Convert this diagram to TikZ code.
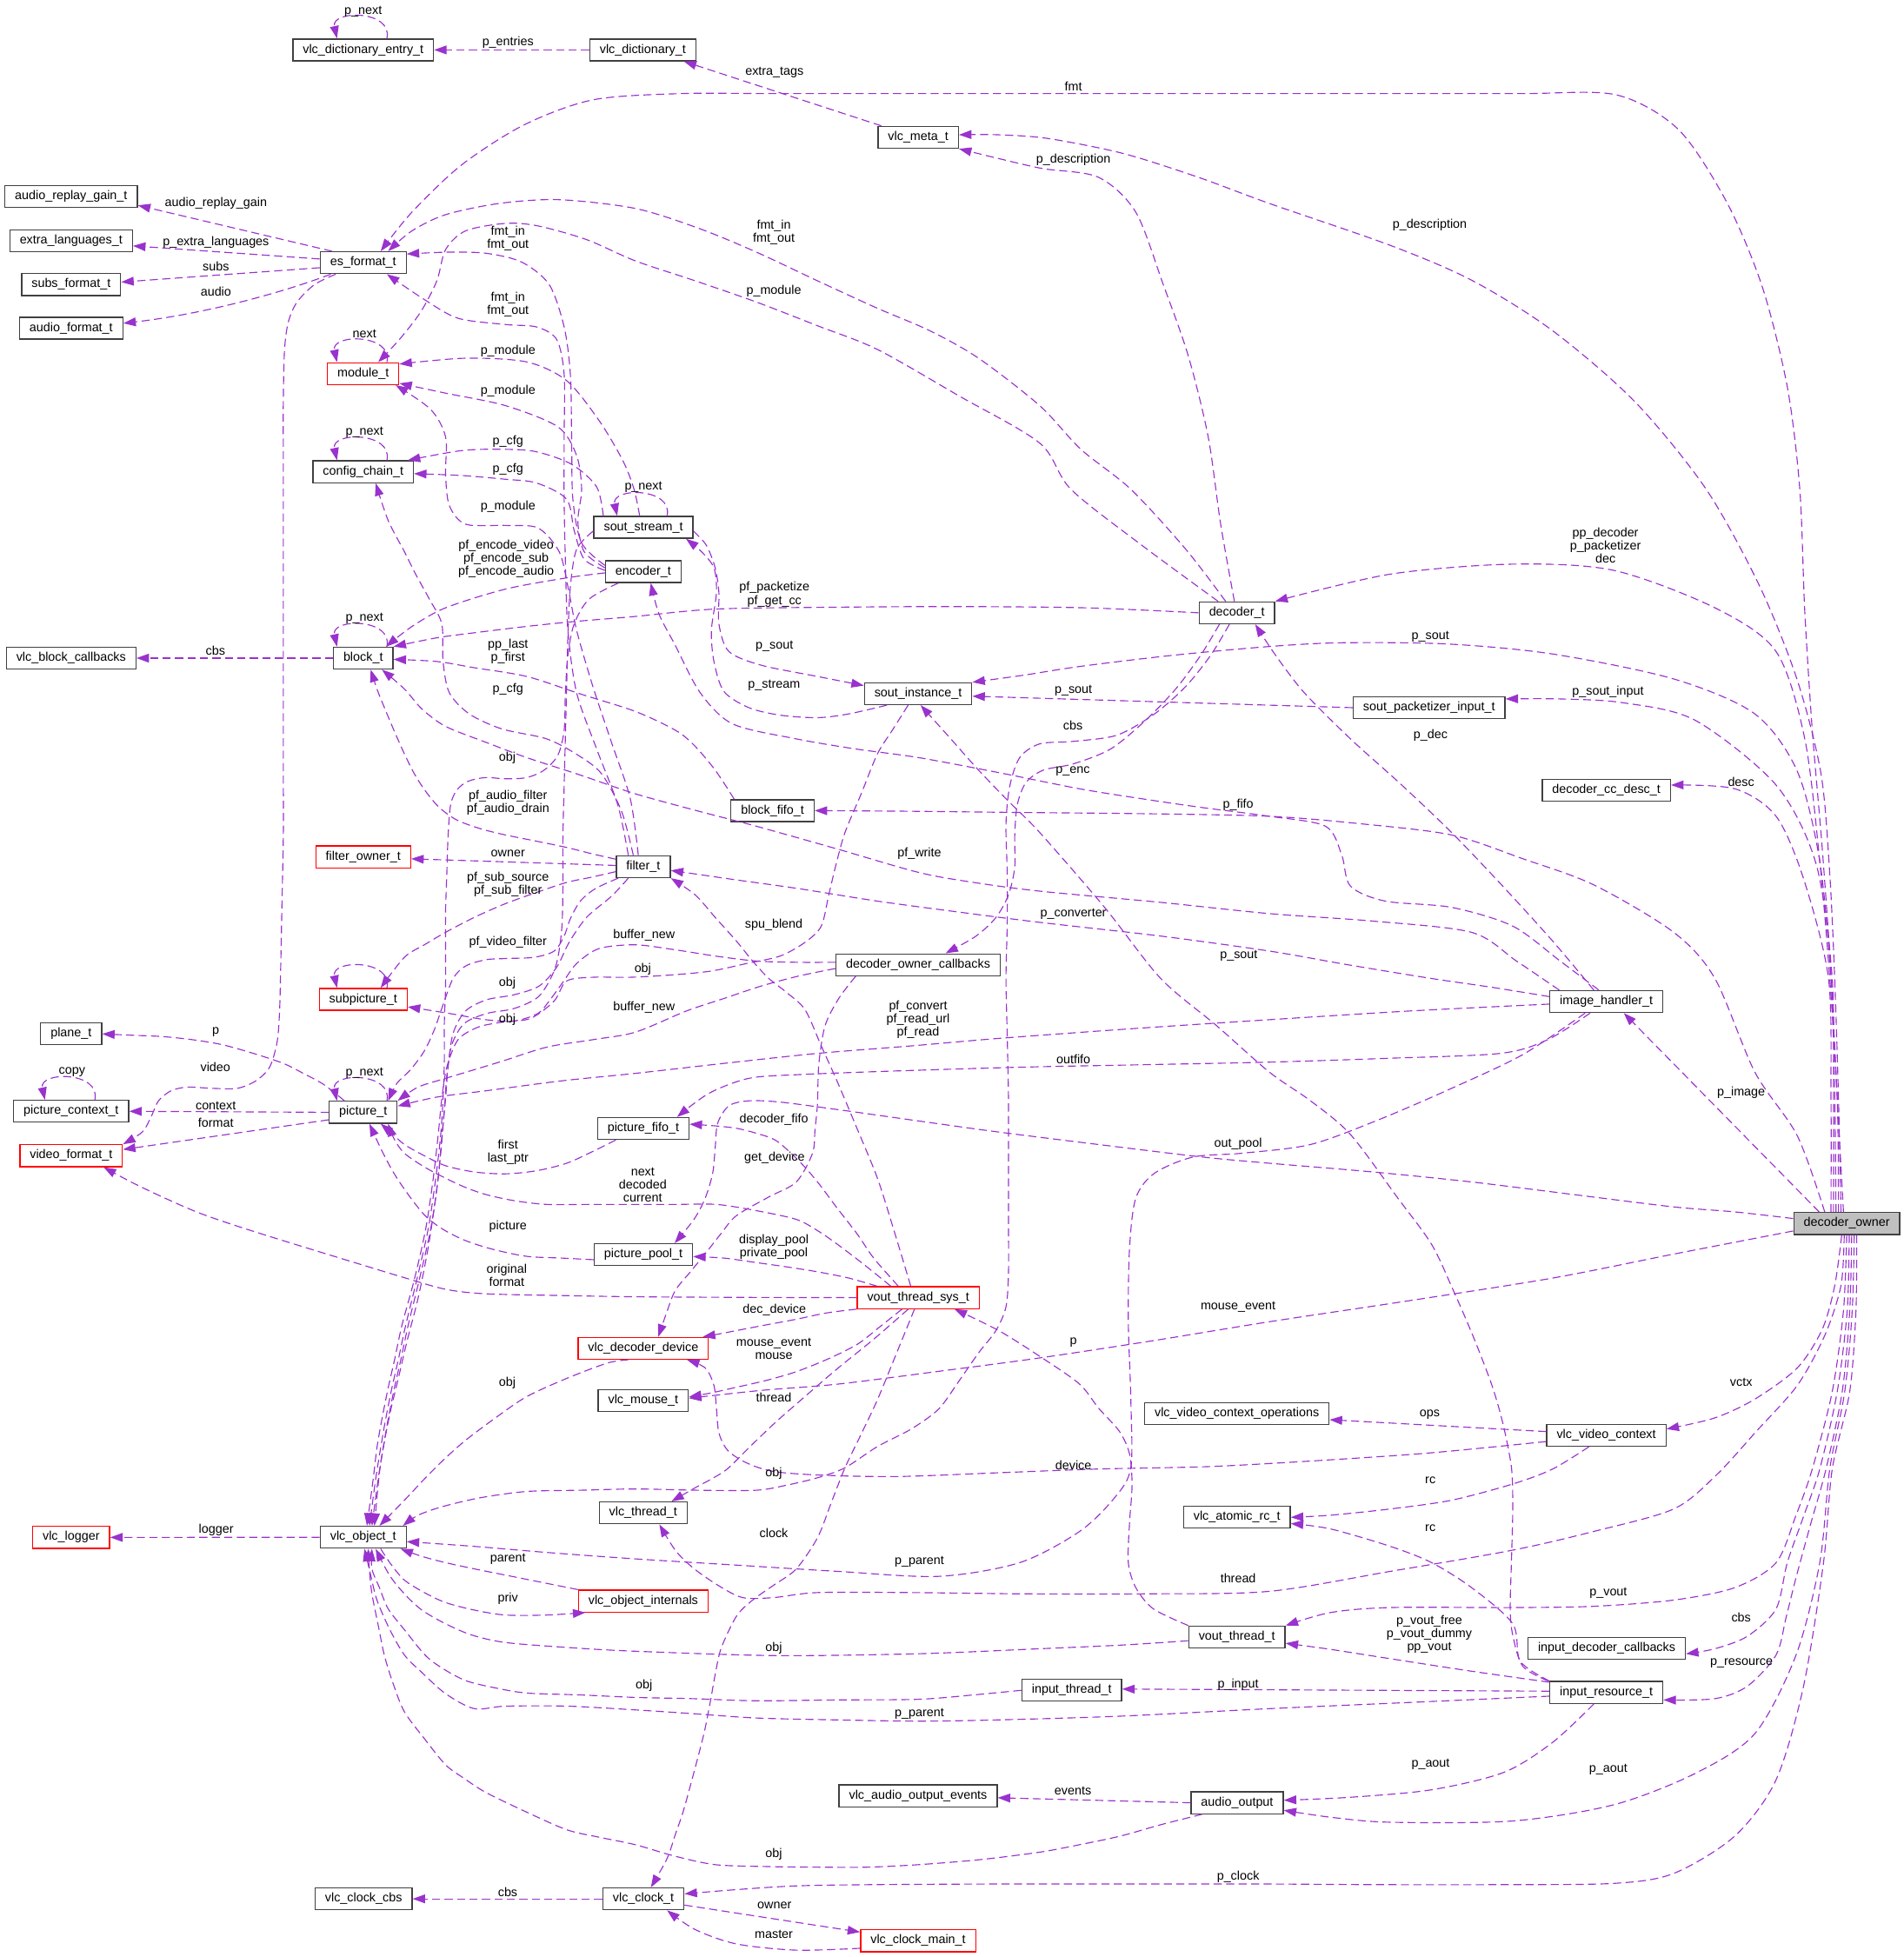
\documentclass[tikz,border=0pt]{standalone}
\usepackage{fontspec}
\setmainfont{Liberation Sans}
\usetikzlibrary{arrows.meta}

\definecolor{edgecol}{HTML}{9A32CD}
\definecolor{ownerfill}{HTML}{BFBFBF}

\tikzset{
  cls/.style={draw=black!75, line width=0.9pt, fill=white, minimum height=17.5pt,
    inner xsep=8pt, inner ysep=0pt, text height=7.4pt, text depth=2.4pt,
    font=\fontsize{10}{12}\selectfont},
  redcls/.style={cls, draw=red},
  ownercls/.style={cls, fill=ownerfill},
  use/.style={draw=edgecol, line width=0.8pt, dash pattern=on 6.5pt off 3.5pt,
    -{Triangle[length=10pt,width=7pt]}},
  lbl/.style={font=\fontsize{10}{10.5}\selectfont, inner sep=0pt, align=center},
}

\begin{document}
\begin{tikzpicture}[x=1pt,y=-1pt]
\useasboundingbox (0,0) rectangle (1525,1568);

% classes
\node[cls] (dictentry) at (291,40) {vlc\_dictionary\_entry\_t};
\node[cls] (dict) at (515,40) {vlc\_dictionary\_t};
\node[cls] (meta) at (735.7,110) {vlc\_meta\_t};
\node[cls] (replaygain) at (57,157.5) {audio\_replay\_gain\_t};
\node[cls] (extralang) at (57,193) {extra\_languages\_t};
\node[cls] (esformat) at (291,210.5) {es\_format\_t};
\node[cls] (subsformat) at (57,228) {subs\_format\_t};
\node[cls] (audioformat) at (57,263) {audio\_format\_t};
\node[redcls] (module) at (291,299.4) {module\_t};
\node[cls] (configchain) at (291,378) {config\_chain\_t};
\node[cls] (soutstream) at (515.5,422.5) {sout\_stream\_t};
\node[cls] (encoder) at (515.4,458) {encoder\_t};
\node[cls] (decoder) at (991,491) {decoder\_t};
\node[cls] (blockcb) at (57,527.3) {vlc\_block\_callbacks};
\node[cls] (block) at (291,527.3) {block\_t};
\node[cls] (soutinst) at (735.6,555.8) {sout\_instance\_t};
\node[cls] (soutpkt) at (1145,567) {sout\_packetizer\_input\_t};
\node[cls] (ccdesc) at (1287,633) {decoder\_cc\_desc\_t};
\node[cls] (blockfifo) at (619,649.5) {block\_fifo\_t};
\node[redcls] (filterowner) at (291,686.6) {filter\_owner\_t};
\node[cls] (filter) at (515.4,694.4) {filter\_t};
\node[cls] (decownercb) at (735.6,773) {decoder\_owner\_callbacks};
\node[redcls] (subpicture) at (291,800.7) {subpicture\_t};
\node[cls] (imagehandler) at (1287,802.5) {image\_handler\_t};
\node[cls] (plane) at (57,828.4) {plane\_t};
\node[cls] (piccontext) at (57,890.4) {picture\_context\_t};
\node[cls] (picture) at (291,891.2) {picture\_t};
\node[cls] (picfifo) at (515.4,904.2) {picture\_fifo\_t};
\node[redcls] (videoformat) at (57,926) {video\_format\_t};
\node[ownercls] (decoderowner) at (1479.6,980.3) {decoder\_owner};
\node[cls] (picpool) at (515.5,1005.3) {picture\_pool\_t};
\node[redcls] (voutsys) at (735.7,1039.7) {vout\_thread\_sys\_t};
\node[redcls] (decdevice) at (515.4,1080.3) {vlc\_decoder\_device};
\node[cls] (mouse) at (515.4,1122.3) {vlc\_mouse\_t};
\node[cls] (vctxops) at (991,1132.5) {vlc\_video\_context\_operations};
\node[cls] (vctx) at (1287,1150) {vlc\_video\_context};
\node[cls] (thread) at (515.3,1212.2) {vlc\_thread\_t};
\node[cls] (atomicrc) at (991,1215.7) {vlc\_atomic\_rc\_t};
\node[redcls] (logger) at (57,1231.8) {vlc\_logger};
\node[cls] (object) at (291,1231.7) {vlc\_object\_t};
\node[redcls] (objinternals) at (515.4,1282.8) {vlc\_object\_internals};
\node[cls] (vout) at (991,1311.6) {vout\_thread\_t};
\node[cls] (inputdeccb) at (1287.3,1320.6) {input\_decoder\_callbacks};
\node[cls] (inputthread) at (858.7,1354.3) {input\_thread\_t};
\node[cls] (inputres) at (1287,1356) {input\_resource\_t};
\node[cls] (aoutevents) at (735.6,1438.9) {vlc\_audio\_output\_events};
\node[cls] (aout) at (991.2,1444.4) {audio\_output};
\node[cls] (clockcbs) at (291.3,1521.4) {vlc\_clock\_cbs};
\node[cls] (clock) at (515.5,1521.4) {vlc\_clock\_t};
\node[redcls] (clockmain) at (735.6,1555) {vlc\_clock\_main\_t};

% self references
\draw[use] ([xshift=19pt]dictentry.north) .. controls ([xshift=24pt,yshift=23pt]dictentry.north) and ([xshift=-26pt,yshift=23pt]dictentry.north) .. ([xshift=-21pt]dictentry.north);
\draw[use] ([xshift=19pt]module.north) .. controls ([xshift=24pt,yshift=23pt]module.north) and ([xshift=-26pt,yshift=23pt]module.north) .. ([xshift=-21pt]module.north);
\draw[use] ([xshift=19pt]configchain.north) .. controls ([xshift=24pt,yshift=23pt]configchain.north) and ([xshift=-26pt,yshift=23pt]configchain.north) .. ([xshift=-21pt]configchain.north);
\draw[use] ([xshift=19pt]soutstream.north) .. controls ([xshift=24pt,yshift=23pt]soutstream.north) and ([xshift=-26pt,yshift=23pt]soutstream.north) .. ([xshift=-21pt]soutstream.north);
\draw[use] ([xshift=19pt]block.north) .. controls ([xshift=24pt,yshift=23pt]block.north) and ([xshift=-26pt,yshift=23pt]block.north) .. ([xshift=-21pt]block.north);
\draw[use] ([xshift=19pt]subpicture.north) .. controls ([xshift=24pt,yshift=23pt]subpicture.north) and ([xshift=-26pt,yshift=23pt]subpicture.north) .. ([xshift=-21pt]subpicture.north);
\draw[use] ([xshift=19pt]picture.north) .. controls ([xshift=24pt,yshift=23pt]picture.north) and ([xshift=-26pt,yshift=23pt]picture.north) .. ([xshift=-21pt]picture.north);
\draw[use] ([xshift=19pt]piccontext.north) .. controls ([xshift=24pt,yshift=23pt]piccontext.north) and ([xshift=-26pt,yshift=23pt]piccontext.north) .. ([xshift=-21pt]piccontext.north);

% dictionary, meta, es_format_t
\draw[use] (dict.west) -- (dictentry.east);
\draw[use] ([xshift=3pt]meta.north west) -- ([xshift=-10pt]dict.south east);
\draw[use] ([xshift=10pt]esformat.north west) -- ([yshift=-7pt]replaygain.east);
\draw[use] ([yshift=3pt]esformat.west) -- ([yshift=-4pt]extralang.east);
\draw[use] ([yshift=-4pt]esformat.west) -- ([yshift=2pt]subsformat.east);
\draw[use] ([xshift=-26pt]esformat.south) .. controls (222,236) and (160,252) .. ([yshift=4pt]audioformat.east);
\draw[use] plot[smooth] coordinates {([xshift=-22pt]esformat.south) (252,228) (238,242) (231,258) (228,280) (227,320) (227,370) (227,420) (227,470) (227,520) (227,570) (227,620) (227,670) (226,720) (225,770) (224,810) (222,835) (216,855) (205,866) (190,872) (170,872) (150,871) (137,874) (127,882) (121,895) (114,907) (videoformat.north east)};

% decoder_owner
\draw[use] plot[smooth] coordinates {([xshift=-2.6pt]decoderowner.north) (1472,880) (1467,780) (1460,680) (1452,585) (1446,490) (1442,392) (1432,310) (1412,230) (1384,163) (1345,104) (1295,76) (1220,75) (1120,75) (1020,75) (920,75) (820,75) (720,75) (620,75) (545,75) (475,80) (420,100) (370,132) (330,170) ([xshift=14pt]esformat.north)};
\draw[use] plot[smooth] coordinates {([xshift=-4.6pt]decoderowner.north) (1473,880) (1470,785) (1466,700) (1459,620) (1440,545) (1410,470) (1367,392) (1310,322) (1244,265) (1180,225) (1115,197) (1017,163) (960,142) (900,123) (840,111) (800,108) ([yshift=2pt]meta.east)};
\draw[use] plot[smooth] coordinates {([xshift=-6.6pt]decoderowner.north) (1472,880) (1466,784) (1458,690) (1446,592) (1423,522) (1374,487) (1293,457) (1212,452) (1114,460) (decoder.north east)};
\draw[use] plot[smooth] coordinates {([xshift=-8.6pt]decoderowner.north) (1470,880) (1467,785) (1458,690) (1440,618) (1406,572) (1341,544) (1244,524) (1160,516) (1075,515) (1017,518) (940,525) (865,534) (820,541) (soutinst.north east)};
\draw[use] plot[smooth] coordinates {([xshift=-10.6pt]decoderowner.north) (1469,880) (1468,784) (1455,692) (1423,629) (1358,577) (1300,563) (1250,560) ([yshift=7pt]soutpkt.east)};
\draw[use] plot[smooth] coordinates {([xshift=-12.6pt]decoderowner.north) (1467,880) (1465,784) (1445,704) (1423,654) (1390,632) ([yshift=4pt]ccdesc.east)};
\draw[use] plot[smooth] coordinates {([xshift=-17.6pt]decoderowner.north) (1440,910) (1406,859) (1374,784) (1341,747) (1277,709) (1220,688) (1163,669) (1090,660) (1017,654) (920,652) (820,651) (730,650) (blockfifo.east)};
\draw[use] ([xshift=-22pt]decoderowner.north) -- ([xshift=14pt]imagehandler.south);
\draw[use] plot[smooth] coordinates {([yshift=4pt]decoderowner.west) (1390,971) (1341,967) (1260,957) (1179,947) (1100,939) (1017,932) (963,927) (880,917) (800,907) (735,898) (671,889) (625,883) (600,882) (584,886) (575,900) (573,920) (571,940) (565,960) (556,977) ([xshift=25pt]picpool.north)};
\draw[use] plot[smooth] coordinates {([yshift=-6pt]decoderowner.west) (1340,1005) (1244,1024) (1130,1042) (1017,1059) (925,1074) (833,1088) (750,1099) (671,1109) (610,1114) ([yshift=2pt]mouse.east)};
\draw[use] plot[smooth] coordinates {([xshift=-4pt]decoderowner.south) (1470,1030) (1460,1065) (1440,1096) (1406,1121) (1374,1136) ([yshift=5pt]vctx.east)};
\draw[use] plot[smooth] coordinates {([xshift=-2pt]decoderowner.south) (1475,1030) (1462,1070) (1440,1110) (1407,1147) (1375,1182) (1341,1209) (1277,1227) (1212,1242) (1114,1259) (1017,1275) (920,1277) (820,1277) (730,1276) (655,1276) (620,1280) (595,1280) (575,1270) (555,1256) (541,1242) ([xshift=13pt]thread.south)};
\draw[use] plot[smooth] coordinates {(decoderowner.south) (1477,1050) (1468,1115) (1452,1177) (1439,1214) (1423,1252) (1390,1272) (1341,1282) (1277,1287) (1212,1288) (1114,1288) (1066,1292) (vout.north east)};
\draw[use] plot[smooth] coordinates {([xshift=2pt]decoderowner.south) (1480,1050) (1472,1115) (1458,1177) (1445,1215) (1432,1252) (1423,1289) (1400,1311) (1374,1321) ([yshift=-4.5pt]inputdeccb.east)};
\draw[use] plot[smooth] coordinates {([xshift=4pt]decoderowner.south) (1482,1050) (1476,1115) (1463,1177) (1451,1220) (1439,1264) (1431,1296) (1423,1326) (1400,1351) (1374,1361) ([yshift=-6pt]inputres.east)};
\draw[use] plot[smooth] coordinates {([xshift=6pt]decoderowner.south) (1484,1050) (1478,1115) (1466,1177) (1458,1252) (1439,1326) (1406,1389) (1358,1421) (1293,1446) (1212,1459) (1114,1460) (1066,1456) ([yshift=-6pt]aout.east)};
\draw[use] plot[smooth] coordinates {([xshift=8pt]decoderowner.south) (1487,1050) (1482,1115) (1468,1177) (1461,1252) (1445,1351) (1423,1426) (1390,1471) (1341,1501) (1293,1509) (1200,1510) (1100,1510) (1017,1509.5) (920,1509.5) (800,1509.5) (700,1510) (638,1511) (590,1514) ([yshift=4pt]clock.east)};

% decoder_t
\draw[use] plot[smooth] coordinates {([xshift=-2pt]decoder.north) (978,420) (968,350) (952,285) (932,228) (910,170) (880,142) (835,135) (800,127) (meta.south east)};
\draw[use] plot[smooth] coordinates {([xshift=-9pt]decoder.north) (950,440) (906,392) (866,360) (833,325) (784,287) (745,265) (703,247) (655,225) (606,202) (560,183) (509,167) (448,160) (400,163) (357,172) (330,185) ([xshift=20pt]esformat.north)};
\draw[use] plot[smooth] coordinates {([xshift=-15pt]decoder.north) (915,437) (858,392) (833,355) (768,317) (703,280) (655,261) (606,242) (557,225) (509,209) (470,192) (431,181) (405,179) (373,185) (357,200) (350,225) (337,250) (320,272) ([xshift=12pt]module.north)};
\draw[use] plot[smooth] coordinates {(decoder.west) (870,487) (768,486) (670,486.5) (573,488) (508,494) (460,498) (421,502) (380,507) (350,511) (block.north east)};
\draw[use] plot[smooth] coordinates {([xshift=-14pt]decoder.south) (962,525) (942,552) (918,577) (890,600) (860,612) (836,617) (822,627) (815,645) (813,670) (813,695) (808,717) (798,735) (782,750) ([xshift=22pt]decownercb.north)};
\draw[use] plot[smooth] coordinates {([xshift=-6pt]decoder.south) (970,525) (950,550) (925,572) (895,589) (860,594) (833,596) (817,607) (809,630) (806,660) (807,700) (807,740) (806,784) (807,830) (808,880) (808,930) (808,980) (808,1020) (806,1047) (798,1066) (784,1084) (768,1107) (752,1129) (730,1145) (703,1159) (677,1176) (655,1184) (630,1190) (606,1194) (560,1194) (509,1193) (465,1194) (422,1195) (385,1200) (355,1207) (335,1214) ([xshift=-3pt]object.north east)};

% sout
\draw[use] plot[smooth] coordinates {([yshift=-3pt]soutstream.east) (566,437) (573,455) (576,475) (576,500) (584,522) (610,533) (655,542) ([yshift=6.5pt]soutinst.west)};
\draw[use] plot[smooth] coordinates {([xshift=-25pt]soutinst.south) (680,572) (655,575) (625,573) (600,567) (580,554) (572,530) (570,505) (574,475) (572,455) (562,442) ([xshift=-6pt]soutstream.south east)};
\draw[use] (soutpkt.west) -- ([yshift=-2pt]soutinst.east);
\draw[use] plot[smooth] coordinates {([xshift=-3pt]soutstream.north) (508,392) (499,369) (480,337) (454,305) (422,290) (373,287) ([yshift=-1.5pt]module.north east)};
\draw[use] plot[smooth] coordinates {([xshift=8pt]soutstream.north west) (478,390) (458,372) (430,362) (405,360) (370,361) ([xshift=-5pt]configchain.north east)};
\draw[use] plot[smooth] coordinates {([yshift=-3pt]soutstream.west) (462,440) (457,470) (455,510) (454,550) (453,590) (452,630) (451,670) (451,710) (450,745) (445,775) (432,798) (412,808) (390,812) (372,820) (362,837) (358,862) (356,890) (353,925) (349,960) (343,1000) (335,1040) (326,1075) (319,1105) (313,1130) (308,1155) (304,1180) ([xshift=9pt]object.north)};
\draw[use] plot[smooth] coordinates {([xshift=-8pt]soutinst.south) (715,585) (703,604) (690,636) (677,667) (670,692) (664,717) (658,742) (645,755) (625,766) (598,772) (570,778) (540,781) (505,783) (475,783) (454,786) (444,802) (425,816) (402,819) (383,823) (367,833) (358,855) (354,880) (351,910) (347,945) (341,985) (332,1025) (322,1062) (316,1090) (311,1112) (306,1137) (302,1160) (299,1185) ([xshift=3pt]object.north)};

% encoder_t
\draw[use] plot[smooth] coordinates {([yshift=5pt]encoder.west) (466,435) (459,400) (458,350) (457,300) (452,262) (440,228) (418,210) (390,203) (360,202) ([yshift=7pt]esformat.east)};
\draw[use] plot[smooth] coordinates {([yshift=3pt]encoder.west) (468,442) (463,418) (466,392) (462,365) (447,342) (405,325) (357,315) ([yshift=1.5pt]module.south east)};
\draw[use] plot[smooth] coordinates {([yshift=1pt]encoder.west) (468,448) (460,425) (454,400) (430,387) (405,384) (370,381) ([yshift=-1.5pt]configchain.east)};
\draw[use] plot[smooth] coordinates {([yshift=-1pt]encoder.west) (454,463) (405,472) (357,487) (330,502) ([xshift=-6pt]block.north east)};
\draw[use] plot[smooth] coordinates {([xshift=-20pt]encoder.south) (472,480) (460,500) (455,525) (453,555) (452,585) (447,605) (436,617) (422,623) (405,624) (389,623) (375,626) (366,633) (361,645) (359,670) (358,700) (357,730) (357,760) (357,790) (356,820) (356,850) (355,880) (353,910) (349,945) (343,985) (334,1025) (325,1062) (319,1090) (314,1112) (309,1137) (305,1160) (301,1185) ([xshift=5pt]object.north)};

% filter_t
\draw[use] plot[smooth] coordinates {([xshift=-12pt]filter.north) (495,645) (478,600) (462,555) (455,505) (453,450) (452,400) (452,350) (452,300) (446,272) (430,262) (405,260) (367,255) (340,240) ([xshift=19pt]esformat.south)};
\draw[use] plot[smooth] coordinates {([xshift=-4pt]filter.north) (505,640) (490,595) (475,550) (462,505) (455,470) (448,442) (431,423) (405,421) (373,420) (360,405) (357,380) (357,350) (345,328) ([xshift=-3pt]module.south east)};
\draw[use] plot[smooth] coordinates {([xshift=-8pt]filter.north) (498,650) (482,620) (463,605) (438,592) (402,584) (376,572) (360,555) (355,530) (354,500) (344,480) (333,460) (324,442) (311,417) ([xshift=10pt]configchain.south)};
\draw[use] plot[smooth] coordinates {([yshift=6pt]filter.west) (474,684) (454,679) (430,674) (405,669) (385,664) (366,657) (352,647) (341,634) (332,620) (324,604) (316,586) (308,567) (302,552) ([xshift=6pt]block.south)};
\draw[use] ([yshift=1pt]filter.west) -- ([yshift=-1.5pt]filterowner.east);
\draw[use] plot[smooth] coordinates {([yshift=-4pt]filter.west) (473,703) (454,707) (430,715) (405,724) (380,735) (357,747) (340,757) (324,767) ([xshift=14pt]subpicture.north)};
\draw[use] plot[smooth] coordinates {([xshift=2pt]filter.south west) (477,712) (465,722) (457,736) (452,750) (444,762) (428,767) (405,768) (389,769) (373,774) (363,784) (355,805) (348,825) (340,842) (329,857) (318,868) ([xshift=20pt]picture.north)};
\draw[use] plot[smooth] coordinates {([xshift=-12pt]filter.south) (490,718) (470,735) (456,755) (446,775) (432,790) (412,797) (390,801) (373,810) (363,828) (359,855) (357,880) (354,910) (351,945) (345,985) (336,1025) (327,1062) (321,1090) (316,1112) (311,1137) (307,1160) (303,1185) ([xshift=7pt]object.north)};

% block_fifo_t, block_t
\draw[use] plot[smooth] coordinates {([xshift=3pt]blockfifo.north west) (573,617) (556,597) (541,585) (509,570) (465,556) (422,542) (380,535) (350,530) ([yshift=-1pt]block.east)};
\draw[use] (block.west) -- (blockcb.east);

% image_handler_t
\draw[use] plot[smooth] coordinates {([xshift=-10pt]imagehandler.north) (1244,754) (1204,710) (1163,667) (1122,628) (1082,592) (1045,555) (1022,525) ([xshift=-16pt]decoder.south east)};
\draw[use] plot[smooth] coordinates {([xshift=-6pt]imagehandler.north) (1250,770) (1212,742) (1163,727) (1110,722) (1082,710) (1075,685) (1062,662) (1017,654) (963,647) (915,640) (865,632) (800,619) (736,607) (685,600) (638,592) (587,580) (561,555) (541,517) (528,492) ([xshift=6pt]encoder.south)};
\draw[use] plot[smooth] coordinates {([xshift=8pt]imagehandler.north west) (1215,770) (1179,747) (1100,738) (1017,732) (930,723) (833,714) (780,707) (736,699) (670,680) (606,662) (560,650) (509,636) (465,621) (422,607) (390,595) (357,582) (338,568) (324,552) ([xshift=15pt]block.south)};
\draw[use] plot[smooth] coordinates {([yshift=4pt]imagehandler.west) (1195,791) (1147,784) (1080,773) (1017,762) (930,750) (833,739) (770,731) (703,722) (640,712) (590,705) ([yshift=-3pt]filter.east)};
\draw[use] plot[smooth] coordinates {([yshift=-2pt]imagehandler.west) (1130,810) (1017,817) (910,824) (800,832) (730,838) (655,844) (580,852) (509,860) (450,866) (389,874) (350,879) ([yshift=5pt]picture.east)};
\draw[use] plot[smooth] coordinates {([xshift=-13pt]imagehandler.south) (1240,833) (1202,844) (1110,848) (1017,851) (920,853) (820,855) (720,858) (640,861) (600,864) (568,876) ([xshift=-10pt]picfifo.north east)};
\draw[use] plot[smooth] coordinates {([xshift=-17pt]imagehandler.south) (1220,845) (1163,872) (1105,897) (1050,917) (995,924) (956,927) (925,940) (910,960) (905,1000) (904,1059) (906,1120) (906,1176) (893,1200) (865,1227) (817,1252) (752,1263) (671,1259) (590,1254) (509,1249) (440,1244) (380,1239) ([yshift=-3.5pt]object.east)};

% decoder_owner_callbacks
\draw[use] plot[smooth] coordinates {([xshift=-50pt]decownercb.south) (672,800) (661,822) (656,853) (655,884) (653,905) (651,924) (638,947) (616,959) (590,974) (578,988) (567,1002) (554,1018) (541,1034) (534,1052) ([xshift=12pt]decdevice.north)};
\draw[use] plot[smooth] coordinates {([yshift=2pt]decownercb.west) (638,771) (606,770) (573,766) (541,761) (509,757) (480,760) (462,772) (451,787) (440,802) (431,812) (412,818) (389,817) (360,812) ([yshift=-6pt]subpicture.east)};
\draw[use] plot[smooth] coordinates {([yshift=-3pt]decownercb.west) (640,782) (610,790) (580,800) (550,810) (509,827) (475,833) (438,839) (400,851) (357,864) (335,871) (picture.north east)};

% vout_thread_sys_t
\draw[use] plot[smooth] coordinates {([xshift=-6pt]voutsys.north) (716,985) (703,944) (687,905) (671,867) (658,838) (645,809) (630,795) (616,784) (603,770) (590,754) (573,735) (557,717) (filter.south east)};
\draw[use] plot[smooth] coordinates {([xshift=-16pt]voutsys.north) (700,1008) (687,989) (670,967) (655,947) (640,930) (622,914) (606,908) (590,904) (572,902) ([yshift=3.5pt]picfifo.east)};
\draw[use] plot[smooth] coordinates {([xshift=-22pt]voutsys.north) (692,1013) (671,997) (655,986) (638,977) (606,970) (574,965) (541,965) (509,965) (474,965) (438,965) (412,962) (389,957) (372,951) (357,944) (340,935) (324,924) (316,913) ([xshift=20pt]picture.south)};
\draw[use] plot[smooth] coordinates {([xshift=-33pt]voutsys.north) (680,1024) (655,1019) (630,1015) (606,1011.6) (580,1008) ([yshift=-1.5pt]picpool.east)};
\draw[use] plot[smooth] coordinates {(voutsys.west) (600,1039.5) (509,1039) (450,1038) (389,1036.6) (357,1033) (325,1024) (292,1014) (243,999) (195,984) (160,972) (130,959) (105,947) ([xshift=26pt]videoformat.south)};
\draw[use] plot[smooth] coordinates {(voutsys.south west) (662,1052) (638,1057) (606,1063) (575,1069) ([xshift=-5pt]decdevice.north east)};
\draw[use] plot[smooth] coordinates {([xshift=-13pt]voutsys.south) (705,1063) (687,1077) (663,1089) (638,1099) (614,1106) (590,1111.5) (570,1116) ([yshift=3pt]mouse.east)};
\draw[use] plot[smooth] coordinates {([xshift=-8pt]voutsys.south) (700,1073) (671,1096.5) (646,1118) (622,1139) (602,1158) (583,1176.7) (570,1185) (557,1192) ([xshift=-13pt]thread.north east)};
\draw[use] plot[smooth] coordinates {([xshift=-3pt]voutsys.south) (718,1085) (703,1121.5) (690,1149) (677,1176) (666,1204) (655,1232) (638,1257) (620,1270) (603,1282) (590,1295) (578,1320) (573.5,1339) (569,1364) (564,1389) (556,1420) (547.5,1451) (541,1470) (534.5,1489) ([xshift=6pt]clock.north)};

% picture_t and friends
\draw[use] plot[smooth] coordinates {([xshift=-15pt]picture.north) (259.5,869) (243,860) (227,852) (203,844) (178,837) (154,833) (130,830.5) (107,829.5) (plane.east)};
\draw[use] (picture.west) -- (piccontext.east);
\draw[use] ([yshift=-6pt]picture.west) -- ([yshift=5pt]videoformat.east);
\draw[use] plot[smooth] coordinates {([xshift=-22pt]picfifo.south) (474,923) (454,932) (430,938) (405,940.5) (380,939) (357,934) (340,926) (324,917) (314,908) ([xshift=14pt]picture.south)};
\draw[use] plot[smooth] coordinates {([yshift=-4pt]picpool.west) (450,1008) (422,1006.6) (395,1001) (373,994) (355,985) (340.6,974) (327,957) (315,939) (305,920) ([xshift=5pt]picture.south)};

% video context, devices, objects
\draw[use] plot[smooth] coordinates {([xshift=-12pt]decdevice.south) (487,1092) (455,1104) (422,1119) (397,1136) (373,1154) (355,1170) (340,1185) (325,1201) ([xshift=13pt]object.north)};
\draw[use] ([yshift=3pt]vctx.west) -- ([yshift=-5pt]vctxops.east);
\draw[use] plot[smooth] coordinates {([yshift=-5pt]vctx.west) (1147,1164) (1060,1170) (970,1175) (880,1177) (800,1180) (720,1183) (660,1182) (620,1179) (598,1172) (583,1162) (576,1148) (574,1128) (572,1110) (565,1096) ([xshift=35pt]decdevice.south)};
\draw[use] plot[smooth] coordinates {([xshift=-14pt]vctx.south) (1244,1177) (1212,1189) (1163,1202) (1114,1209) (1066,1214) (atomicrc.east)};
\draw[use] (object.west) -- (logger.east);
\draw[use] plot[smooth] coordinates {(objinternals.north west) (435,1268) (405,1262) (380,1257) (357,1252) (338,1247) ([xshift=-5pt]object.south east)};
\draw[use] plot[smooth] coordinates {([xshift=14pt]object.south) (313,1253) (324,1266) (340,1276) (357,1284) (380,1290) (405,1294) (438,1294) ([xshift=6pt]objinternals.south west)};

% vout_thread_t
\draw[use] plot[smooth] coordinates {(vout.north west) (924,1289) (910,1272) (904,1252) (905,1220) (907,1190) (905,1165) (897,1147) (880,1128) (865,1109) (835,1088) (800,1066) ([xshift=29pt]voutsys.south)};
\draw[use] plot[smooth] coordinates {([yshift=-3pt]vout.west) (900,1318) (833,1321) (736,1325) (622,1326.5) (509,1323) (455,1320) (405,1316) (378,1310) (357,1301) (338,1290) (324,1277) (312,1262) ([xshift=10pt]object.south)};

% input_resource_t
\draw[use] plot[smooth] coordinates {(inputres.north west) (1218,1331) (1212,1301) (1179,1272) (1147,1252) (1114,1239) (1066,1225) ([yshift=-5pt]atomicrc.east)};
\draw[use] plot[smooth] coordinates {([xshift=-1pt]inputres.north west) (1220,1335) (1212,1310) (1210,1289) (1211,1250) (1212,1210) (1211,1176) (1204,1140) (1195,1109) (1180,1070) (1164,1033) (1147,997) (1120,960) (1082,909) (1050,882) (1017,859) (975,822) (930,784) (885,727) (833,667) (808,642) (784,617) (760,590) ([xshift=2pt]soutinst.south)};
\draw[use] plot[smooth] coordinates {([yshift=-1pt]inputres.north west) (1179,1339) (1114,1329) (1066,1321.5) ([yshift=-5pt]vout.east)};
\draw[use] ([yshift=1pt]inputres.west) -- ([yshift=1pt]inputthread.east);
\draw[use] plot[smooth] coordinates {([yshift=-3pt]inputres.west) (1130,1364) (1017,1369) (898,1375) (800,1378) (736,1379) (670,1378) (606,1376.5) (555,1373) (509,1370) (455,1367) (405,1367) (380,1369) (357,1357) (338,1340) (324,1326) (312,1305) (302,1282) (297,1262) ([xshift=1pt]object.south)};
\draw[use] plot[smooth] coordinates {([xshift=-10pt]inputres.south) (1244,1396) (1205,1420) (1147,1434) (1082,1440) ([yshift=2pt]aout.east)};

% input_thread_t, audio_output
\draw[use] plot[smooth] coordinates {(inputthread.west) (780,1358) (736,1361.5) (670,1362) (606,1362.7) (555,1361) (509,1360) (465,1358) (422,1356.5) (395,1352) (373,1346.5) (355,1337) (341,1326.5) (325,1307) (311,1289) (304,1272) (298,1257) ([xshift=7pt]object.south)};
\draw[use] (aout.west) -- ([yshift=-1.5pt]aoutevents.east);
\draw[use] plot[smooth] coordinates {([xshift=-28pt]aout.south) (930,1462) (898,1471) (865,1478) (833,1484) (785,1490) (736,1494) (695,1496) (655,1496) (614,1495.5) (573,1494) (540,1487) (509,1478) (480,1472) (454,1466) (420,1451) (389,1436) (372,1425) (357,1414) (340,1393) (324,1371.5) (315,1349) (308,1326.5) (303,1302) (298,1277) (296,1258) ([xshift=4pt]object.south)};

% clocks
\draw[use] (clock.west) -- (clockcbs.east);
\draw[use] ([yshift=-5pt]clock.east) -- ([yshift=7pt]clockmain.west);
\draw[use] plot[smooth] coordinates {([yshift=-6pt]clockmain.west) (638,1562.5) (590,1557.5) (557,1546) ([xshift=19pt]clock.south)};

% labels
\node[lbl] (l1) at (291,9) {p\_next};
\node[lbl] (l2) at (407,34) {p\_entries};
\node[lbl] (l3) at (620.5,58) {extra\_tags};
\node[lbl] (l4) at (860,69) {fmt};
\node[lbl] (l5) at (860,128) {p\_description};
\node[lbl] (l6) at (173,163) {audio\_replay\_gain};
\node[lbl] (l7) at (1145.5,180) {p\_description};
\node[lbl] (l8) at (620,186) {fmt\_in\\fmt\_out};
\node[lbl] (l9) at (407,191) {fmt\_in\\fmt\_out};
\node[lbl] (l10) at (173,194) {p\_extra\_languages};
\node[lbl] (l11) at (173,213.5) {subs};
\node[lbl] (l12) at (620,233) {p\_module};
\node[lbl] (l13) at (173,233.5) {audio};
\node[lbl] (l14) at (407,244) {fmt\_in\\fmt\_out};
\node[lbl] (l15) at (292,267.4) {next};
\node[lbl] (l16) at (407,281.4) {p\_module};
\node[lbl] (l17) at (407,313) {p\_module};
\node[lbl] (l18) at (292,346.6) {p\_next};
\node[lbl] (l19) at (407,353.8) {p\_cfg};
\node[lbl] (l20) at (407,375.8) {p\_cfg};
\node[lbl] (l21) at (515.5,390) {p\_next};
\node[lbl] (l22) at (407,405.7) {p\_module};
\node[lbl] (l23) at (405.5,448) {pf\_encode\_video\\pf\_encode\_sub\\pf\_encode\_audio};
\node[lbl] (l24) at (1286.3,437) {pp\_decoder\\p\_packetizer\\dec};
\node[lbl] (l25) at (620.5,476.3) {pf\_packetize\\pf\_get\_cc};
\node[lbl] (l26) at (292,495.6) {p\_next};
\node[lbl] (l27) at (1146,510) {p\_sout};
\node[lbl] (l28) at (407,522) {pp\_last\\p\_first};
\node[lbl] (l29) at (620.5,517.8) {p\_sout};
\node[lbl] (l30) at (172.6,521.3) {cbs};
\node[lbl] (l31) at (620.2,549.3) {p\_stream};
\node[lbl] (l32) at (407,552) {p\_cfg};
\node[lbl] (l33) at (860,553.2) {p\_sout};
\node[lbl] (l34) at (1288.3,554) {p\_sout\_input};
\node[lbl] (l35) at (859.6,581.2) {cbs};
\node[lbl] (l36) at (1146.2,589.5) {p\_dec};
\node[lbl] (l37) at (406.4,607.4) {obj};
\node[lbl] (l38) at (859.6,617.7) {p\_enc};
\node[lbl] (l39) at (1395,626.2) {desc};
\node[lbl] (l40) at (407,643.3) {pf\_audio\_filter\\pf\_audio\_drain};
\node[lbl] (l41) at (992,645) {p\_fifo};
\node[lbl] (l42) at (407,684) {owner};
\node[lbl] (l43) at (736.6,683.8) {pf\_write};
\node[lbl] (l44) at (407,708.4) {pf\_sub\_source\\pf\_sub\_filter};
\node[lbl] (l45) at (860,732) {p\_converter};
\node[lbl] (l46) at (620,740.8) {spu\_blend};
\node[lbl] (l47) at (516,749.3) {buffer\_new};
\node[lbl] (l48) at (407,754.7) {pf\_video\_filter};
\node[lbl] (l49) at (992.5,766) {p\_sout};
\node[lbl] (l50) at (515,776.7) {obj};
\node[lbl] (l51) at (406.4,787.9) {obj};
\node[lbl] (l52) at (516,806.9) {buffer\_new};
\node[lbl] (l53) at (406.4,816.9) {obj};
\node[lbl] (l54) at (735.6,817) {pf\_convert\\pf\_read\_url\\pf\_read};
\node[lbl] (l55) at (172.9,826.8) {p};
\node[lbl] (l56) at (860,848.6) {outfifo};
\node[lbl] (l57) at (172.6,855) {video};
\node[lbl] (l58) at (57.7,858.8) {copy};
\node[lbl] (l59) at (292,859.8) {p\_next};
\node[lbl] (l60) at (1395,875.3) {p\_image};
\node[lbl] (l61) at (172.9,885.8) {context};
\node[lbl] (l62) at (620,896.8) {decoder\_fifo};
\node[lbl] (l63) at (172.9,899.3) {format};
\node[lbl] (l64) at (992,916.2) {out\_pool};
\node[lbl] (l65) at (407,923) {first\\last\_ptr};
\node[lbl] (l66) at (620.5,927.5) {get\_device};
\node[lbl] (l67) at (515,949.5) {next\\decoded\\current};
\node[lbl] (l68) at (407,983) {picture};
\node[lbl] (l69) at (620,999.3) {display\_pool\\private\_pool};
\node[lbl] (l70) at (406,1022) {original\\format};
\node[lbl] (l71) at (992,1047) {mouse\_event};
\node[lbl] (l72) at (620.5,1049.6) {dec\_device};
\node[lbl] (l73) at (620,1080.7) {mouse\_event\\mouse};
\node[lbl] (l74) at (860,1075.5) {p};
\node[lbl] (l75) at (406.4,1108) {obj};
\node[lbl] (l76) at (1395,1107.5) {vctx};
\node[lbl] (l77) at (620,1119.5) {thread};
\node[lbl] (l78) at (1145.5,1133.5) {ops};
\node[lbl] (l79) at (860,1174) {device};
\node[lbl] (l80) at (620,1180.4) {obj};
\node[lbl] (l81) at (1146,1186.2) {rc};
\node[lbl] (l82) at (1146,1224.1) {rc};
\node[lbl] (l83) at (173.2,1225.9) {logger};
\node[lbl] (l84) at (620,1228.6) {clock};
\node[lbl] (l85) at (407,1249.1) {parent};
\node[lbl] (l86) at (736.6,1251.6) {p\_parent};
\node[lbl] (l87) at (992,1264.6) {thread};
\node[lbl] (l88) at (1288.6,1276.1) {p\_vout};
\node[lbl] (l89) at (407,1281) {priv};
\node[lbl] (l90) at (1395,1295.6) {cbs};
\node[lbl] (l91) at (1145.2,1309.5) {p\_vout\_free\\p\_vout\_dummy\\pp\_vout};
\node[lbl] (l92) at (620,1320.8) {obj};
\node[lbl] (l93) at (1395.3,1332.8) {p\_resource};
\node[lbl] (l94) at (992,1349.5) {p\_input};
\node[lbl] (l95) at (516,1350.7) {obj};
\node[lbl] (l96) at (736.6,1373) {p\_parent};
\node[lbl] (l97) at (1146.2,1413.4) {p\_aout};
\node[lbl] (l98) at (1288.6,1417.6) {p\_aout};
\node[lbl] (l99) at (859.6,1434.9) {events};
\node[lbl] (l100) at (620,1485.6) {obj};
\node[lbl] (l101) at (992,1503.5) {p\_clock};
\node[lbl] (l102) at (406.8,1515.8) {cbs};
\node[lbl] (l103) at (620.5,1527) {owner};
\node[lbl] (l104) at (620,1550) {master};
\end{tikzpicture}
\end{document}
